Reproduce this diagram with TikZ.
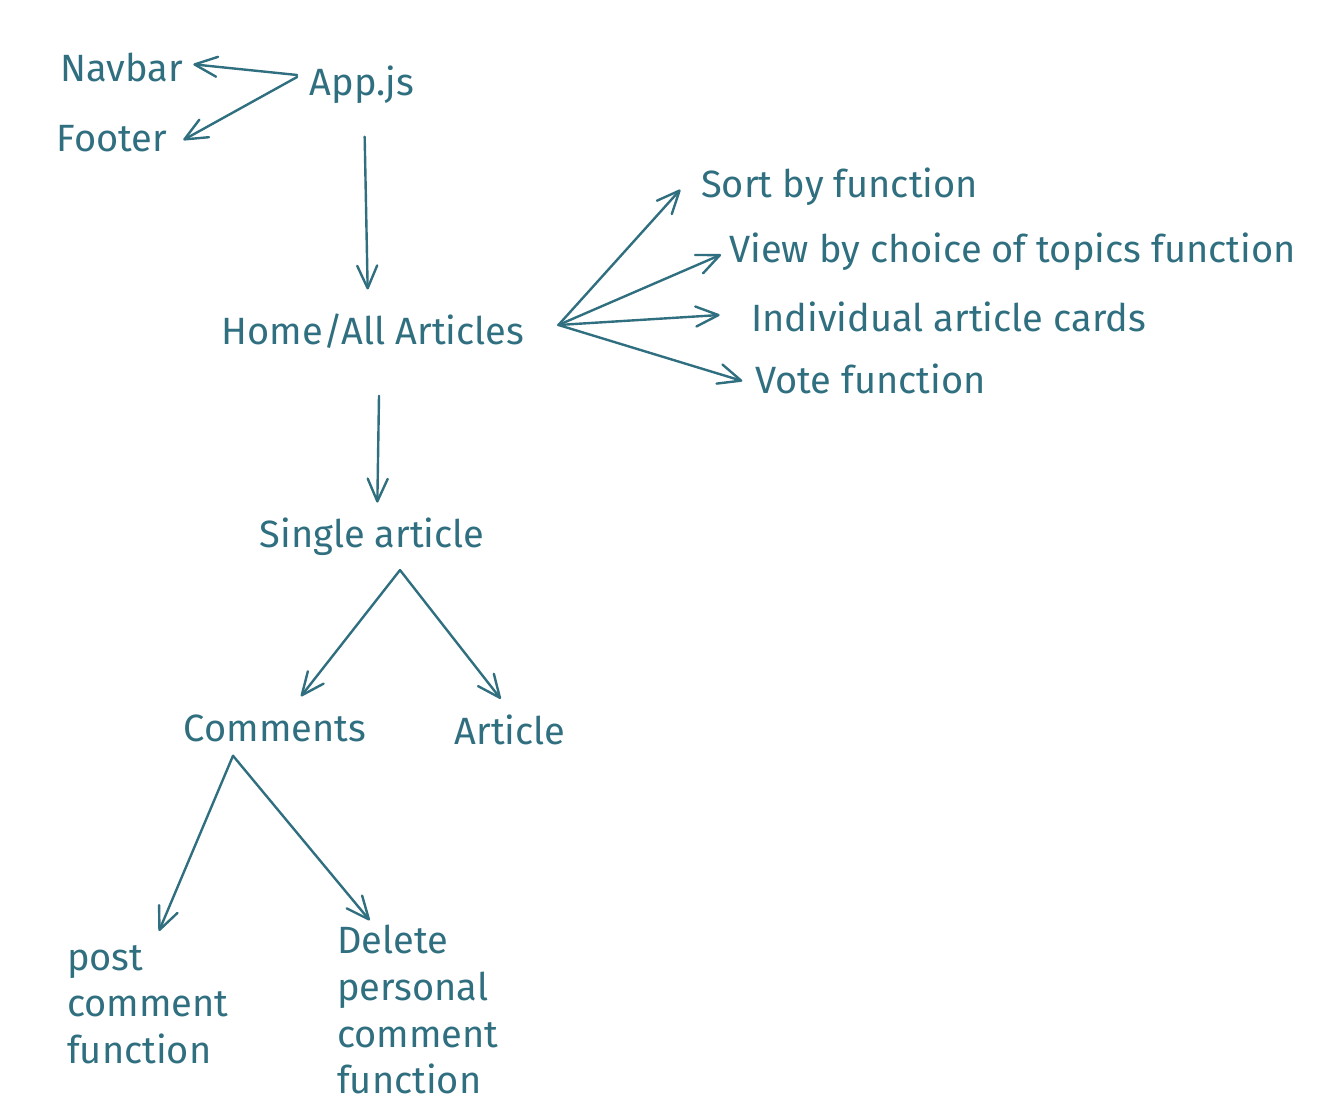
\documentclass[tikz,border=0pt]{standalone}
\usepackage{fontspec}
\setmainfont{Fira Sans}
\usetikzlibrary{arrows.meta}
\definecolor{inkteal}{RGB}{47,111,127}
\tikzset{every picture/.style={line width=1.8pt}}
\tikzset{
  lbl/.style={inner sep=0.75pt, text=inkteal, font=\fontsize{28.5}{35}\selectfont},
  arr/.style={draw=inkteal, line cap=round, -{Straight Barb[length=17pt,width=15pt,line cap=round,line join=round]}}
}

\begin{document}
\begin{tikzpicture}[x=0.75pt,y=0.75pt,yscale=-1,xscale=1]
    \useasboundingbox (0,0) rectangle (1328,1116);
    % Text Node
    \node[lbl] (app) at (362,85) {App.js};
    % Text Node
    \node[lbl] (navbar) at (122,67) {Navbar};
    % Text Node
    \node[lbl] (footer) at (112,139) {Footer};
    % Text Node
    \node[lbl] (home) at (373,331) {Home/All Articles};
    % Text Node
    \node[lbl, anchor=west] (sortby) at (699,187) {Sort by function};
    % Text Node
    \node[lbl, anchor=west] (viewby) at (727,252) {View by choice of topics function};
    % Text Node
    \node[lbl, anchor=west] (cards) at (749,317) {Individual article cards};
    % Text Node
    \node[lbl, anchor=west] (vote) at (753,379) {Vote function};
    % Text Node
    \node[lbl] (single) at (372,537) {Single article};
    % Text Node
    \node[lbl] (comments) at (275,728) {Comments};
    % Text Node
    \node[lbl] (article) at (510,730) {Article};
    % Text Node
    \node[lbl, anchor=north west, align=left] (post) at (65,943) {post\\comment\\function};
    % Text Node
    \node[lbl, anchor=north west, align=left] (delete) at (335,923) {Delete\\personal\\comment\\function};
    % Connection
    \draw[arr] ([xshift=-8pt,yshift=-7.5pt]app.west) -- ([xshift=6pt,yshift=-2pt]navbar.east);
    % Connection
    \draw[arr] ([xshift=-8pt,yshift=-6pt]app.west) -- ([xshift=10.5pt,yshift=0.75pt]footer.east);
    % Connection
    \draw[arr] ([xshift=2pt,yshift=23pt]app.south) -- ([xshift=-4pt,yshift=-16.5pt]home.north);
    % Connection
    \draw[arr] ([xshift=4.5pt,yshift=34pt]home.south) -- ([xshift=4pt,yshift=-10pt]single.north);
    % Connection
    \draw[arr] ([xshift=24pt,yshift=-4.5pt]home.east) -- ([xshift=-14pt,yshift=2pt]sortby.west);
    % Connection
    \draw[arr] ([xshift=24pt,yshift=-4.5pt]home.east) -- ([xshift=-4.5pt,yshift=2pt]viewby.west);
    % Connection
    \draw[arr] ([xshift=24pt,yshift=-4.5pt]home.east) -- ([xshift=-22pt,yshift=-1.5pt]cards.west);
    % Connection
    \draw[arr] ([xshift=24pt,yshift=-4.5pt]home.east) -- ([xshift=-8pt,yshift=1.5pt]vote.west);
    % Connection
    \draw[arr] ([xshift=21pt,yshift=9pt]single.south) -- ([xshift=19.5pt,yshift=-12pt]comments.north);
    % Connection
    \draw[arr] ([xshift=21pt,yshift=9pt]single.south) -- ([xshift=-7pt,yshift=-10.5pt]article.north);
    % Connection
    \draw[arr] ([xshift=-31.5pt,yshift=9pt]comments.south) -- ([xshift=70.5pt,yshift=-9pt]post.north west);
    % Connection
    \draw[arr] ([xshift=-31.5pt,yshift=9pt]comments.south) -- ([xshift=26pt,yshift=-2pt]delete.north west);
\end{tikzpicture}
\end{document}
